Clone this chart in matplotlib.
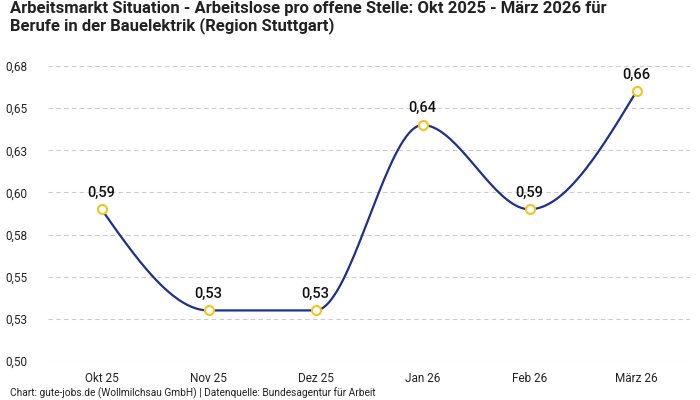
import numpy as np
import matplotlib.pyplot as plt
from decimal import Decimal, ROUND_HALF_UP

months = ["Okt 25", "Nov 25", "Dez 25", "Jan 26", "Feb 26", "März 26"]
values = [0.59, 0.53, 0.53, 0.64, 0.59, 0.66]
yticks = [0.50, 0.525, 0.55, 0.575, 0.60, 0.625, 0.65, 0.675]

title = ("Arbeitsmarkt Situation - Arbeitslose pro offene Stelle: Okt 2025 - März 2026 für\n"
         "Berufe in der Bauelektrik (Region Stuttgart)")
source = "Chart: gute-jobs.de (Wollmilchsau GmbH) | Datenquelle: Bundesagentur für Arbeit"

plt.rcParams['font.family'] = ['Roboto', 'DejaVu Sans']


def de(v):
    s = str(Decimal(str(v)).quantize(Decimal("0.01"), rounding=ROUND_HALF_UP))
    return s.replace(".", ",")


def monotone_curve(x, y, n=40):
    # same shape as d3 curveMonotoneX
    x = np.asarray(x, float)
    y = np.asarray(y, float)
    h = np.diff(x)
    s = np.diff(y) / h
    t = np.zeros(len(x))
    for i in range(1, len(x) - 1):
        p = (s[i - 1] * h[i] + s[i] * h[i - 1]) / (h[i - 1] + h[i])
        t[i] = (np.sign(s[i - 1]) + np.sign(s[i])) * min(abs(s[i - 1]), abs(s[i]), 0.5 * abs(p))
    t[0] = (3 * s[0] - t[1]) / 2
    t[-1] = (3 * s[-1] - t[-2]) / 2
    xs, ys = [], []
    for i in range(len(x) - 1):
        u = np.linspace(0, 1, n)
        h00 = 2 * u**3 - 3 * u**2 + 1
        h10 = u**3 - 2 * u**2 + u
        h01 = -2 * u**3 + 3 * u**2
        h11 = u**3 - u**2
        xs.extend(x[i] + u * h[i])
        ys.extend(h00 * y[i] + h10 * h[i] * t[i] + h01 * y[i + 1] + h11 * h[i] * t[i + 1])
    return np.array(xs), np.array(ys)


fig = plt.figure(figsize=(7, 4), dpi=100)
ax = fig.add_axes([48 / 700, 39 / 400, 642 / 700, 295 / 400])

xpos = np.arange(len(months))
cx, cy = monotone_curve(xpos, values)
ax.plot(cx, cy, color='#1f2f8c', lw=1.6, zorder=3, clip_on=False)
ax.plot(xpos, values, 'o', ms=6.5, mfc='white', mec='#f7c21b', mew=1.5, zorder=4, clip_on=False)

for x, v in zip(xpos, values):
    ax.annotate(de(v), (x, v), xytext=(0, 7), textcoords='offset points',
                ha='center', va='bottom', fontsize=10.5, fontweight='medium', color='#111111')

ax.set_xlim(-0.5, 5.5)
ax.set_ylim(0.5, 0.675)
ax.set_xticks(xpos)
ax.set_xticklabels(months, fontsize=8.5, color='#222222', va='top')
ax.set_yticks(yticks)
ax.set_yticklabels([de(v) for v in yticks], fontsize=8.5, color='#222222')
ax.tick_params(length=0, pad=8)
ax.tick_params(axis='y', pad=15)
ax.grid(axis='y', color='#cccccc', linestyle=(0, (4, 3)), lw=0.8)
ax.set_axisbelow(True)
for sp in ax.spines.values():
    sp.set_visible(False)

fig.text(10 / 700, 1 - 1 / 400, title, ha='left', va='top', fontsize=12, fontweight='bold',
         color='#222222', linespacing=1.1)
fig.text(10 / 700, 1 - 393 / 400, source, ha='left', va='center', fontsize=7.3, color='#222222')

fig.savefig('out.png', dpi=100)
